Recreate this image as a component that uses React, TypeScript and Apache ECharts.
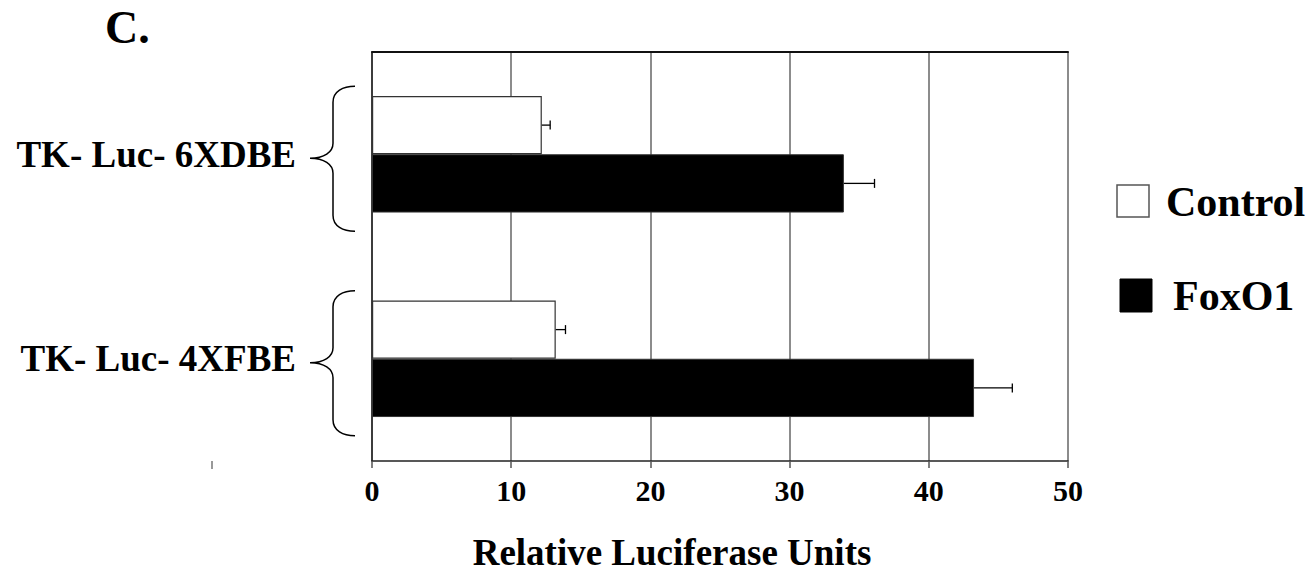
import React, { useEffect, useRef } from "react";
import * as echarts from "echarts";

// Reporter constructs (top to bottom) and luciferase readings
const constructs = ["TK- Luc- 6XDBE", "TK- Luc- 4XFBE"];
const controlValues = [12.2, 13.2];
const controlErrors = [0.6, 0.7];
const foxo1Values = [33.9, 43.25];
const foxo1Errors = [2.2, 2.75];
const seriesNames = ["Control", "FoxO1"];
const axisTitle = "Relative Luciferase Units";
const panelLabel = "C.";

const FONT = '"Liberation Serif", "Times New Roman", Times, serif';
const BAR_CATEGORY_GAP = 0.43;

// Left curly brace, tip at the origin
const BRACE_D =
  "M45,-72 C33,-72 23,-67 23,-56 L23,-15 C23,-6 14,0 0,0 C14,0 23,6 23,15 L23,57 C23,68 33,73 45,73";
echarts.graphic.registerShape("brace", echarts.graphic.extendPath(BRACE_D, {}));

export default function App() {
  const ref = useRef<HTMLDivElement>(null);

  useEffect(() => {
    document.body.style.margin = "0";
    const chart = echarts.init(ref.current!, null, { renderer: "svg" });

    const errorData = [
      ...controlValues.map((v, i) => [v, i, controlErrors[i], -1]),
      ...foxo1Values.map((v, i) => [v, i, foxo1Errors[i], 1]),
    ];

    const option: any = {
      animation: false,
      backgroundColor: "#fff",
      title: {
        text: panelLabel,
        left: 105,
        top: 4,
        padding: 0,
        textStyle: { fontFamily: FONT, fontSize: 46, fontWeight: "bold", color: "#000" },
      },
      grid: { left: 372, right: 248, top: 52, bottom: 114 },
      xAxis: [
        {
          type: "value",
          position: "bottom",
          min: 0,
          max: 50,
          interval: 10,
          axisLine: { show: true, lineStyle: { color: "#222", width: 1.5 } },
          axisTick: { show: true, length: 7, lineStyle: { color: "#555", width: 1.5 } },
          axisLabel: {
            fontFamily: FONT,
            fontSize: 30,
            fontWeight: "bold",
            color: "#000",
            margin: 14,
          },
          splitLine: { show: true, lineStyle: { color: "#666", width: 1.5 } },
          name: axisTitle,
          nameLocation: "middle",
          nameGap: 73,
          nameTextStyle: {
            fontFamily: FONT,
            fontSize: 37,
            fontWeight: "bold",
            color: "#000",
            padding: [0, 96, 0, 0],
          },
        },
        {
          type: "value",
          position: "top",
          min: 0,
          max: 50,
          interval: 10,
          axisLine: { show: true, lineStyle: { color: "#111", width: 2 } },
          axisTick: { show: false },
          axisLabel: { show: false },
          splitLine: { show: false },
        },
      ],
      yAxis: {
        type: "category",
        data: constructs,
        inverse: true,
        axisLine: { show: true, lineStyle: { color: "#222", width: 1.5 } },
        axisTick: { show: false },
        axisLabel: {
          fontFamily: FONT,
          fontSize: 37,
          fontWeight: "bold",
          color: "#000",
          margin: 76,
          padding: [16, 0, 0, 0],
        },
        splitLine: { show: false },
      },
      series: [
        {
          name: seriesNames[0],
          type: "bar",
          data: controlValues,
          barGap: "0%",
          barCategoryGap: `${BAR_CATEGORY_GAP * 100}%`,
          itemStyle: { color: "#fff", borderColor: "#333", borderWidth: 1.2 },
        },
        {
          name: seriesNames[1],
          type: "bar",
          data: foxo1Values,
          barGap: "0%",
          barCategoryGap: `${BAR_CATEGORY_GAP * 100}%`,
          itemStyle: { color: "#000", borderColor: "#333", borderWidth: 1 },
        },
        {
          name: "error",
          type: "custom",
          z: 5,
          data: errorData,
          encode: { x: 0, y: 1 },
          renderItem: (_params: any, api: any) => {
            const v = api.value(0);
            const cat = api.value(1);
            const err = api.value(2);
            const side = api.value(3);
            const start = api.coord([v, cat]);
            const end = api.coord([v + err, cat]);
            const band = api.size([0, 1])[1];
            const barW = (band * (1 - BAR_CATEGORY_GAP)) / 2;
            const y = start[1] + (side * barW) / 2;
            const cap = 4.5;
            const style = { stroke: "#000", lineWidth: 1.3 };
            return {
              type: "group",
              children: [
                { type: "line", shape: { x1: start[0], y1: y, x2: end[0], y2: y }, style },
                { type: "line", shape: { x1: end[0], y1: y - cap, x2: end[0], y2: y + cap }, style },
              ],
            };
          },
        },
      ],
    };

    chart.setOption(option);

    // Braces to the left of each construct group, plus the legend
    const braces = constructs.map((c) => {
      const cy = chart.convertToPixel({ yAxisIndex: 0 }, c) as number;
      return {
        type: "brace",
        x: 310,
        y: cy + 4,
        shape: {},
        style: { fill: "none", stroke: "#000", lineWidth: 1.5 },
      };
    });

    chart.setOption({
      graphic: [
        ...braces,
        {
          type: "line",
          shape: { x1: 212, y1: 461, x2: 212, y2: 469 },
          style: { stroke: "#555", lineWidth: 1.2 },
        },
        {
          type: "rect",
          shape: { x: 1117, y: 185, width: 32, height: 32 },
          style: { fill: "#fff", stroke: "#555", lineWidth: 1.5 },
        },
        {
          type: "text",
          x: 1166,
          y: 202,
          style: {
            text: seriesNames[0],
            font: `bold 42px ${FONT}`,
            fill: "#000",
            textVerticalAlign: "middle",
          },
        },
        {
          type: "rect",
          shape: { x: 1120, y: 279, width: 32, height: 33 },
          style: { fill: "#000", stroke: "#000", lineWidth: 1 },
        },
        {
          type: "text",
          x: 1173,
          y: 296,
          style: {
            text: seriesNames[1],
            font: `bold 42px ${FONT}`,
            fill: "#000",
            textVerticalAlign: "middle",
          },
        },
      ],
    });

    return () => chart.dispose();
  }, []);

  return <div ref={ref} style={{ width: 1316, height: 576 }} />;
}
